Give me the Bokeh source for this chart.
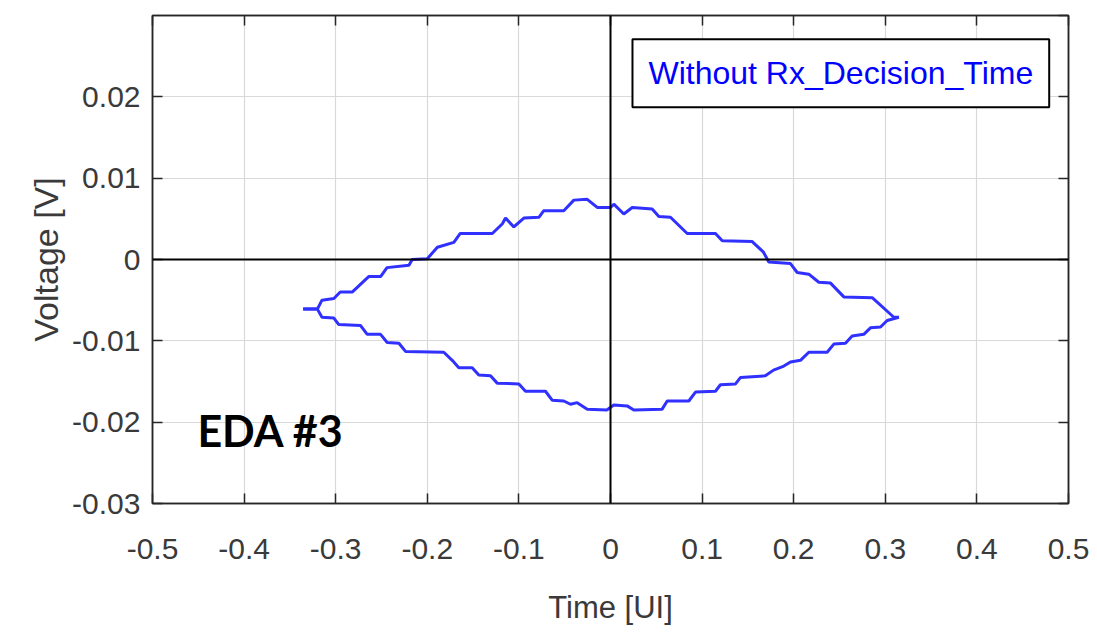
from bokeh.plotting import figure
from bokeh.models import (Range1d, LinearAxis, FixedTicker, Span, Label,
                          CustomJSTickFormatter)
from bokeh.embed import file_html
from bokeh.resources import INLINE

# Eye contour: upper boundary (time in UI, voltage in V)
upper_t = [-0.3355, -0.320, -0.315, -0.302, -0.295, -0.282, -0.264, -0.251,
           -0.244, -0.220, -0.2165, -0.200, -0.189, -0.171, -0.164, -0.129,
           -0.118, -0.1146, -0.1055, -0.0946, -0.078, -0.0728, -0.051, -0.040,
           -0.0254, -0.0145, 0.0, 0.0036, 0.0145, 0.0237, 0.0455, 0.0528,
           0.0655, 0.0837, 0.1146, 0.122, 0.1547, 0.167, 0.1728, 0.1965,
           0.2038, 0.2165, 0.2274, 0.2402, 0.2547, 0.2857, 0.3093, 0.3148]
upper_v = [-0.0061, -0.0061, -0.0050, -0.0048, -0.0040, -0.0040, -0.0021, -0.0021,
           -0.0010, -0.0007, 0.0, 0.0001, 0.0015, 0.0021, 0.0032, 0.0032,
           0.0044, 0.0051, 0.0040, 0.0051, 0.0052, 0.0060, 0.0060, 0.0073,
           0.0074, 0.0064, 0.0064, 0.0068, 0.0056, 0.0064, 0.0062, 0.0053,
           0.0052, 0.0032, 0.0032, 0.0023, 0.0022, 0.0009, -0.0003, -0.0005,
           -0.0016, -0.0018, -0.0028, -0.0029, -0.0046, -0.0047, -0.0071, -0.0071]

# Eye contour: lower boundary
lower_t = [-0.3355, -0.320, -0.315, -0.302, -0.2966, -0.273, -0.2656, -0.251,
           -0.2438, -0.231, -0.2238, -0.182, -0.1728, -0.1656, -0.151, -0.1438,
           -0.131, -0.1237, -0.100, -0.0928, -0.071, -0.0637, -0.051, -0.0437,
           -0.0364, -0.0254, -0.004, 0.0036, 0.0182, 0.0254, 0.0564, 0.0619,
           0.0855, 0.0928, 0.1146, 0.120, 0.1365, 0.142, 0.169, 0.178,
           0.1892, 0.1965, 0.2074, 0.2165, 0.2365, 0.2438, 0.2565, 0.2638,
           0.2765, 0.2838, 0.2948, 0.302, 0.3148]
lower_v = [-0.0061, -0.0061, -0.0071, -0.0072, -0.0080, -0.0081, -0.0092, -0.0092,
           -0.0102, -0.0103, -0.0113, -0.0114, -0.0124, -0.0133, -0.0133, -0.0142,
           -0.0143, -0.0152, -0.0153, -0.0162, -0.0162, -0.0173, -0.0174, -0.0178,
           -0.0176, -0.0184, -0.0185, -0.0179, -0.0180, -0.0185, -0.0184, -0.0174,
           -0.0174, -0.0163, -0.0162, -0.0154, -0.0153, -0.0145, -0.0143, -0.0136,
           -0.0131, -0.0126, -0.0124, -0.0114, -0.0114, -0.0104, -0.0103, -0.0094,
           -0.0092, -0.0084, -0.0083, -0.0075, -0.0071]

x_ticks = [-0.5, -0.4, -0.3, -0.2, -0.1, 0.0, 0.1, 0.2, 0.3, 0.4, 0.5]
y_ticks = [-0.03, -0.02, -0.01, 0.0, 0.01, 0.02, 0.03]
y_label_ticks = [-0.03, -0.02, -0.01, 0.0, 0.01, 0.02]

legend_text = "Without Rx_Decision_Time"
tag_text = "EDA #3"

FONT = "Liberation Sans"
AX_COLOR = "#262626"
TXT_COLOR = "#3a3a3a"

p = figure(width=1097, height=635, output_backend="svg", toolbar_location=None,
           x_range=Range1d(-0.5, 0.5), y_range=Range1d(-0.03, 0.03),
           min_border_left=152, min_border_right=29, min_border_top=15,
           min_border_bottom=132, background_fill_color="white",
           border_fill_color="white")

p.outline_line_color = AX_COLOR
p.outline_line_width = 1.5

fmt_x = CustomJSTickFormatter(code="return (Math.round(tick*10)/10).toString();")
fmt_y = CustomJSTickFormatter(code="return (Math.round(tick*100)/100).toString();")
blank = CustomJSTickFormatter(code="return '';")

for ax, ticks, fmt in ((p.xaxis[0], x_ticks, fmt_x), (p.yaxis[0], y_label_ticks, fmt_y)):
    ax.ticker = FixedTicker(ticks=ticks)
    ax.formatter = fmt
    ax.major_tick_in = 10
    ax.major_tick_out = 0
    ax.minor_tick_line_color = None
    ax.axis_line_color = AX_COLOR
    ax.axis_line_width = 1.5
    ax.major_tick_line_color = AX_COLOR
    ax.major_tick_line_width = 1.5
    ax.major_label_text_font = FONT
    ax.major_label_text_font_size = "30px"
    ax.major_label_text_color = TXT_COLOR
    ax.axis_label_text_font = FONT
    ax.axis_label_text_font_style = "normal"
    ax.axis_label_text_color = TXT_COLOR

p.xaxis.axis_label = "Time [UI]"
p.yaxis.axis_label = "Voltage [V]"
p.xaxis.axis_label_text_font_size = "31px"
p.yaxis.axis_label_text_font_size = "34px"
p.xaxis.major_label_standoff = 35
p.yaxis.major_label_standoff = 12
p.xaxis.axis_label_standoff = 28
p.yaxis.axis_label_standoff = 4

# Box-style ticks on the top and right edges
for loc, ticks in (("above", x_ticks), ("right", y_ticks)):
    ax = LinearAxis(ticker=FixedTicker(ticks=ticks), formatter=blank,
                    major_tick_in=10, major_tick_out=0, major_label_standoff=0,
                    major_label_text_font_size="1px",
                    axis_line_color=AX_COLOR, axis_line_width=1.5,
                    major_tick_line_color=AX_COLOR, major_tick_line_width=1.5,
                    minor_tick_line_color=None)
    p.add_layout(ax, loc)

p.xgrid.ticker = FixedTicker(ticks=x_ticks)
p.ygrid.ticker = FixedTicker(ticks=y_ticks)
p.grid.grid_line_color = "#d9d9d9"
p.grid.grid_line_width = 1.2

# Zero reference lines
p.add_layout(Span(location=0, dimension="width", line_color="black", line_width=2))
p.add_layout(Span(location=0, dimension="height", line_color="black", line_width=2))

# Eye opening contour
p.line(upper_t, upper_v, line_color="#3030ff", line_width=3)
p.line(lower_t, lower_v, line_color="#3030ff", line_width=3)

p.add_layout(Label(x=0.024, y=0.0229, text=legend_text, text_color="blue",
                   text_font=FONT, text_font_size="32px",
                   text_align="left", text_baseline="middle",
                   border_line_color="black", border_line_width=2,
                   background_fill_color="white", padding=16))

p.add_layout(Label(x=-0.451, y=-0.0210, text=tag_text, text_color="black",
                   text_font="Lato", text_font_style="bold",
                   text_font_size="43px", text_align="left",
                   text_baseline="alphabetic"))

open("out.html", "w").write(file_html(p, INLINE))
